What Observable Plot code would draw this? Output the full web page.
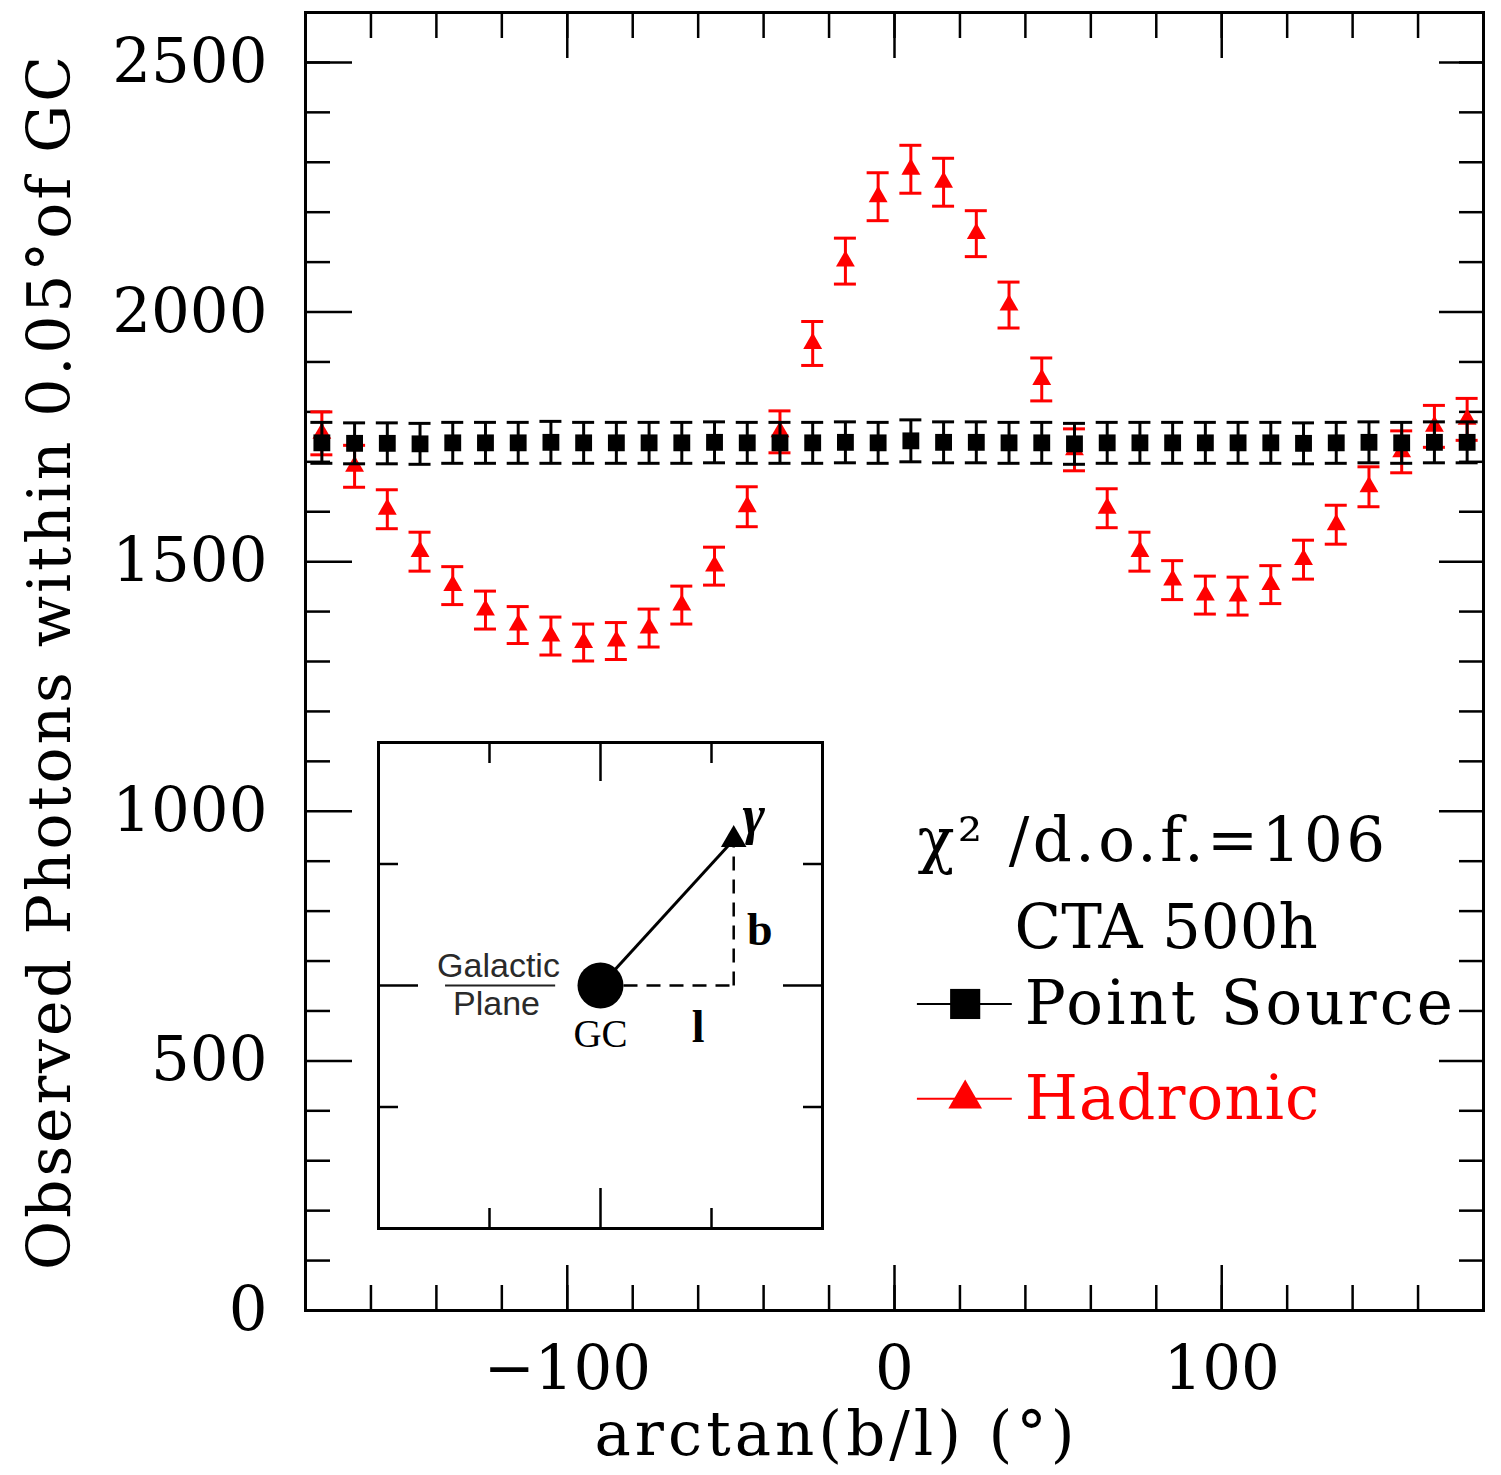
<!DOCTYPE html>
<html>
<head>
<meta charset="utf-8">
<script src="https://cdn.jsdelivr.net/npm/d3@7"></script>
<script src="https://cdn.jsdelivr.net/npm/@observablehq/plot@0.6"></script>
<style>
  html, body { margin: 0; padding: 0; background: #fff; }
  #wrap { position: relative; width: 1501px; height: 1475px; }
  #inset { position: absolute; left: 376px; top: 740px; }
</style>
</head>
<body>
<div id="wrap"><div id="main"></div><div id="inset"></div></div>
<script>
// ---- data ----
const angles = [-175,-165,-155,-145,-135,-125,-115,-105,-95,-85,-75,-65,-55,-45,-35,-25,-15,-5,
                5,15,25,35,45,55,65,75,85,95,105,115,125,135,145,155,165,175];
const pointSource = [1738,1737,1737,1736,1738,1738,1738,1739,1738,1738,1738,1738,1739,1738,1738,1738,1739,1738,
                     1742,1739,1739,1738,1738,1736,1738,1738,1738,1738,1738,1738,1737,1738,1739,1738,1739,1739];
const pointSourceErr = [41,41,41,41,41,41,41,42,41,41,41,41,41,41,41,41,41,41,
                        42,41,41,41,41,41,41,41,41,41,41,41,41,41,41,41,41,41];
const hadronic = [1757,1691,1605,1520,1452,1403,1373,1351,1338,1341,1367,1413,1491,1610,1760,1937,2102,2231,
                  2286,2260,2157,2014,1865,1724,1607,1520,1463,1433,1431,1454,1504,1574,1650,1720,1771,1785];
const hadronicErr = [43,42,39,39,38,38,37,38,37,37,38,38,38,40,42,44,46,48,
                     48,48,46,46,43,42,39,39,39,38,38,38,39,39,40,42,42,42];
const xMajorTicks = [-100, 0, 100];
const xMinorTicks = [-160,-140,-120,-100,-80,-60,-40,-20,0,20,40,60,80,100,120,140,160];
const yMajorTicks = [0, 500, 1000, 1500, 2000, 2500];
const yMinorTicks = [100,200,300,400,600,700,800,900,1100,1200,1300,1400,1600,1700,1800,1900,2100,2200,2300,2400,2500];
const seriesNames = ["Point Source", "Hadronic"];
const seriesColors = ["#000000", "#ff0000"];
const annotationLines = ["χ² /d.o.f.=106", "CTA 500h"];
const xLabel = "arctan(b/l) (°)";
const yLabel = "Observed Photons within 0.05°of GC";

// inset diagram
const gcPoint = [{x: 0.5, y: 0.5}];
const photonPoint = [{x: 0.8, y: 0.8}];
const insetTicks = [0.25, 0.75];
const insetMid = [0.5];

// ---- tables ----
const ps = angles.map((a, i) => ({x: a, y: pointSource[i], e: pointSourceErr[i]}));
const had = angles.map((a, i) => ({x: a, y: hadronic[i], e: hadronicErr[i]}));

const SERIF = "'DejaVu Serif', serif";
const FS = 61;

function errorMarks(data, color, symbol, r) {
  return [
    Plot.ruleX(data, {x: "x", y1: d => d.y - d.e, y2: d => d.y + d.e, stroke: color, strokeWidth: 3}),
    Plot.ruleY(data, {y: d => d.y - d.e, x1: "x", x2: "x", insetLeft: -11, insetRight: -11, stroke: color, strokeWidth: 3}),
    Plot.ruleY(data, {y: d => d.y + d.e, x1: "x", x2: "x", insetLeft: -11, insetRight: -11, stroke: color, strokeWidth: 3}),
    Plot.dot(data, {x: "x", y: "y", symbol, r, fill: color})
  ];
}

const legendY = [614, 424];
const legendTextY = [574, 384];

const main = Plot.plot({
  width: 1501,
  height: 1475,
  marginLeft: 305,
  marginRight: 18,
  marginTop: 12,
  marginBottom: 165,
  x: {domain: [-180, 180]},
  y: {domain: [0, 2600]},
  style: {fontFamily: SERIF, background: "#fff", color: "#000"},
  marks: [
    // inward ticks on all four sides
    Plot.axisY(yMinorTicks, {anchor: "left", tickSize: -25, strokeWidth: 2.5, fill: "none"}),
    Plot.axisY(yMajorTicks, {anchor: "left", tickSize: -47, strokeWidth: 2.5, fill: "none"}),
    Plot.axisY(yMinorTicks, {anchor: "right", tickSize: -25, strokeWidth: 2.5, fill: "none"}),
    Plot.axisY(yMajorTicks, {anchor: "right", tickSize: -45, strokeWidth: 2.5, fill: "none"}),
    Plot.axisX(xMinorTicks, {anchor: "bottom", tickSize: -25, strokeWidth: 2.5, fill: "none"}),
    Plot.axisX(xMajorTicks, {anchor: "bottom", tickSize: -45, strokeWidth: 2.5, fill: "none"}),
    Plot.axisX(xMinorTicks, {anchor: "top", tickSize: -25, strokeWidth: 2.5, fill: "none"}),
    Plot.axisX(xMajorTicks, {anchor: "top", tickSize: -45, strokeWidth: 2.5, fill: "none"}),
    // tick labels
    Plot.axisY(yMajorTicks, {anchor: "left", tickSize: 0, tickPadding: 38, fontSize: FS, label: null, tickFormat: d3.format("d")}),
    Plot.axisX(xMajorTicks, {anchor: "bottom", tickSize: 0, tickPadding: 35, fontSize: FS, label: null}),
    Plot.frame({strokeWidth: 3}),
    // data
    ...errorMarks(had, seriesColors[1], "triangle", 7),
    ...errorMarks(ps, seriesColors[0], "square", 9.5),
    // axis titles
    Plot.text([yLabel], {frameAnchor: "left", textAnchor: "middle", lineAnchor: "middle", rotate: -90, dx: -255, fontSize: 60, fill: "#000"}),
    Plot.text([xLabel], {frameAnchor: "bottom", textAnchor: "middle", dx: -58, dy: 144, lineAnchor: "bottom", fontSize: FS, fill: "#000"}),
    // annotation
    Plot.text([annotationLines[0]], {x: 7, y: 901, textAnchor: "start", lineAnchor: "bottom", fontSize: FS, fill: "#000"}),
    Plot.text([annotationLines[1]], {x: 36.7, y: 727, textAnchor: "start", lineAnchor: "bottom", fontSize: FS, fill: "#000"}),
    // legend
    Plot.ruleY(seriesNames, {y: (d, i) => legendY[i], x1: 7, x2: 36, stroke: (d, i) => seriesColors[i], strokeWidth: 2}),
    Plot.dot([seriesNames[0]], {x: 21.6, y: legendY[0], symbol: "square", r: 17, fill: seriesColors[0]}),
    Plot.dot([seriesNames[1]], {x: 21.6, y: legendY[1], symbol: "triangle", r: 12.5, fill: seriesColors[1]}),
    Plot.text(seriesNames, {x: 39.8, y: (d, i) => legendTextY[i], text: d => d, textAnchor: "start", lineAnchor: "bottom", fontSize: FS, fill: (d, i) => seriesColors[i]})
  ]
});
// letter-spacing tweaks to mimic the wide plotting font of the reference
const spacing = {
  "χ² /d.o.f.=106": "3.5px",
  "Point Source": "3px",
  "Hadronic": "1px",
  "arctan(b/l) (°)": "4px",
  "Observed Photons within 0.05°of GC": "2.9px"
};
d3.select(main).selectAll("text").each(function () {
  const s = spacing[this.textContent];
  if (s) this.style.letterSpacing = s;
});
document.getElementById("main").appendChild(main);

const inset = Plot.plot({
  width: 448,
  height: 490,
  margin: 2,
  x: {domain: [0, 1]},
  y: {domain: [0, 1]},
  style: {fontFamily: "'Liberation Serif', serif", background: "transparent", color: "#000"},
  marks: [
    Plot.axisX(insetTicks, {anchor: "top", tickSize: -20, strokeWidth: 2.5, fill: "none"}),
    Plot.axisX(insetTicks, {anchor: "bottom", tickSize: -20, strokeWidth: 2.5, fill: "none"}),
    Plot.axisY(insetTicks, {anchor: "left", tickSize: -20, strokeWidth: 2.5, fill: "none"}),
    Plot.axisY(insetTicks, {anchor: "right", tickSize: -20, strokeWidth: 2.5, fill: "none"}),
    Plot.axisX(insetMid, {anchor: "top", tickSize: -38, strokeWidth: 2.5, fill: "none"}),
    Plot.axisX(insetMid, {anchor: "bottom", tickSize: -40, strokeWidth: 2.5, fill: "none"}),
    Plot.axisY(insetMid, {anchor: "left", tickSize: -40, strokeWidth: 2.5, fill: "none"}),
    Plot.axisY(insetMid, {anchor: "right", tickSize: -40, strokeWidth: 2.5, fill: "none"}),
    Plot.frame({strokeWidth: 3}),
    // galactic plane fraction line
    Plot.ruleY(gcPoint, {y: "y", x1: 0.151, x2: 0.399, stroke: "#222", strokeWidth: 2}),
    Plot.text(gcPoint, {x: "x", y: "y", text: () => "Galactic", dx: -102, dy: -19, fontFamily: "'Liberation Sans', sans-serif", fontSize: 34, fill: "#2a2a2a"}),
    Plot.text(gcPoint, {x: "x", y: "y", text: () => "Plane", dx: -104, dy: 19, fontFamily: "'Liberation Sans', sans-serif", fontSize: 34, fill: "#2a2a2a"}),
    // legs (dashed) and ray (solid)
    Plot.link(gcPoint, {x1: "x", y1: "y", x2: () => photonPoint[0].x, y2: "y", stroke: "#000", strokeWidth: 2.5, strokeDasharray: "14,9"}),
    Plot.link(photonPoint, {x1: "x", y1: () => gcPoint[0].y, x2: "x", y2: "y", stroke: "#000", strokeWidth: 2.5, strokeDasharray: "14,9"}),
    Plot.link(gcPoint, {x1: "x", y1: "y", x2: () => photonPoint[0].x, y2: () => photonPoint[0].y, stroke: "#000", strokeWidth: 3}),
    Plot.dot(gcPoint, {x: "x", y: "y", r: 23, fill: "#000"}),
    Plot.dot(photonPoint, {x: "x", y: "y", symbol: "triangle", r: 9.5, fill: "#000"}),
    Plot.text(photonPoint, {x: "x", y: "y", text: () => "γ", dx: 20, dy: -24, fontSize: 54, fontStyle: "italic", fontWeight: "bold", fill: "#000"}),
    Plot.text(photonPoint, {x: "x", y: () => 0.65, text: () => "b", dx: 26, dy: 18, fontSize: 46, fontWeight: "bold", fill: "#000"}),
    Plot.text(gcPoint, {x: () => 0.65, y: "y", text: () => "l", dx: 31, dy: 42, fontSize: 46, fontWeight: "bold", fill: "#000"}),
    Plot.text(gcPoint, {x: "x", y: "y", text: () => "GC", dy: 49, fontSize: 39, fill: "#000"})
  ]
});
document.getElementById("inset").appendChild(inset);
</script>
</body>
</html>
